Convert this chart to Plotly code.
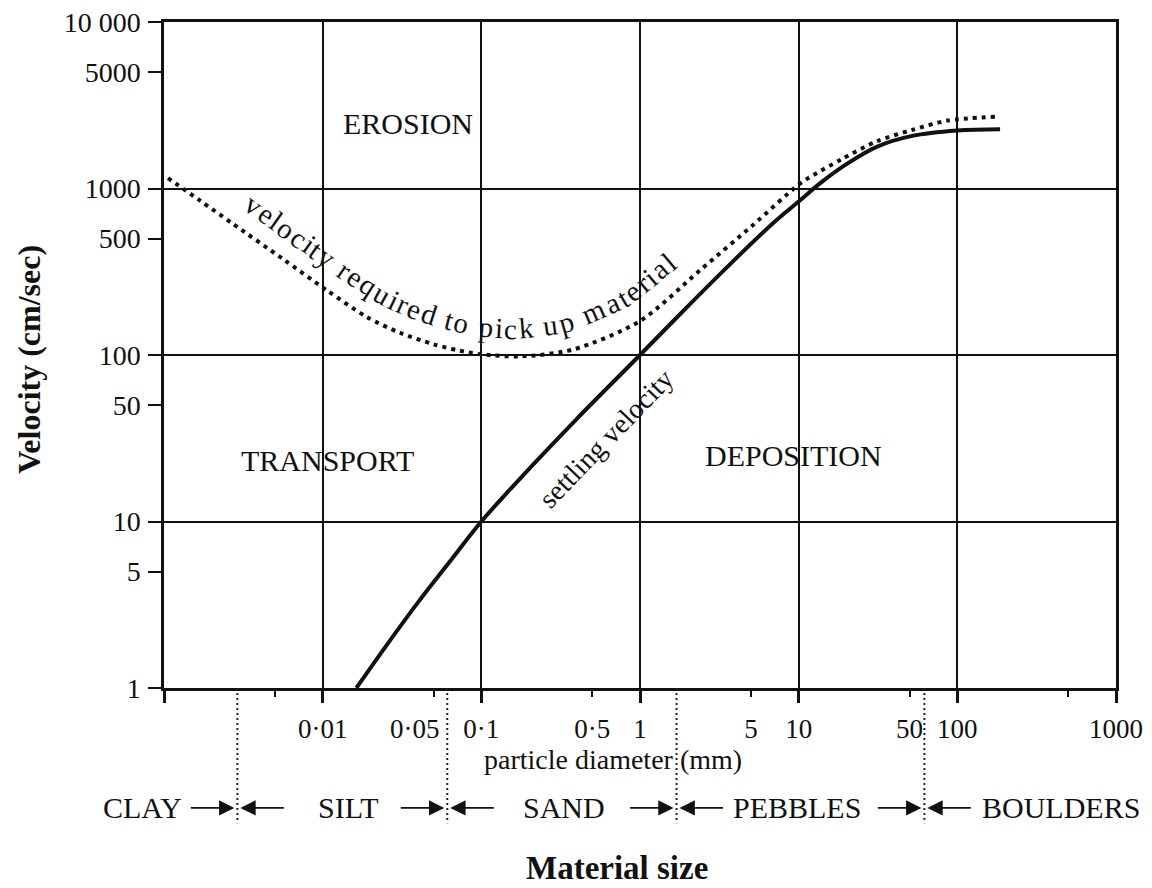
import math
import numpy as np
import plotly.graph_objects as go

# ---------------- data ----------------
settle_d = [0.0163, 0.025, 0.04, 0.065, 0.1, 0.2, 0.4, 1, 2, 4, 7, 10, 14, 20, 31, 52, 100, 186]
settle_v = [1, 1.78, 3.28, 5.93, 10, 20.7, 41.4, 100, 196, 378, 627, 835, 1095, 1400, 1780, 2070, 2230, 2270]

erosion_d = [0.00106, 0.00169, 0.00272, 0.00562, 0.0106, 0.019, 0.0307, 0.05,
             0.081, 0.1, 0.175, 0.38, 1, 2.4, 5.2, 10, 11.8, 18.7, 31, 52, 87, 173]
erosion_v = [1155, 845, 613, 377, 245, 169, 136, 116,
             104, 101, 98, 108, 160, 324, 608, 1056, 1171, 1500, 1920, 2250, 2560, 2700]

x_tick_vals = [0.001, 0.005, 0.01, 0.05, 0.1, 0.5, 1, 5, 10, 50, 100, 500, 1000]
x_tick_text = ["", "", "0·01", "", "0·1", "0·5", "1", "5", "10", "50", "100", "", "1000"]
x_shifted_label = ("0·05", 0.05)      # drawn left of its tick, as in the reference
x_decades = [0.001, 0.01, 0.1, 1, 10, 100, 1000]

y_tick_vals = [1, 5, 10, 50, 100, 500, 1000, 5000, 10000]
y_tick_text = ["1", "5", "10", "50", "100", "500", "1000", "5000", "10 000"]
y_grid_vals = [10, 100, 1000]

size_classes = ["CLAY", "SILT", "SAND", "PEBBLES", "BOULDERS"]
class_bounds = [0.0029, 0.061, 1.7, 62]

pickup_label = "velocity required to pick up material"

# ---------------- styling / geometry ----------------
SERIF = "Liberation Serif, Times New Roman, serif"
INK = "#111111"
L10 = math.log10

# the page body adds an 8px margin, so the figure is drawn 8px smaller
PAGE_OFF = 8
FIG_W, FIG_H = 1152 - PAGE_OFF, 888 - PAGE_OFF
M_L, M_R, M_T, M_B = 156, 36, 14, 200
PLOT_W = FIG_W - M_L - M_R          # 952
PLOT_H = FIG_H - M_T - M_B          # 666
X_RANGE = (-3, 3)
Y_RANGE = (0, 4)

fig = go.Figure()

fig.add_trace(go.Scatter(
    x=erosion_d, y=erosion_v, mode="lines",
    line=dict(color=INK, width=4, dash="4px,5px", shape="spline", smoothing=0.8),
    showlegend=False, hoverinfo="skip"))
fig.add_trace(go.Scatter(
    x=settle_d, y=settle_v, mode="lines",
    line=dict(color=INK, width=4, shape="spline", smoothing=1.0),
    showlegend=False, hoverinfo="skip"))

# helper traces so the overlay axes (decade ticks / grid lines) are drawn
fig.add_trace(go.Scatter(x=[None], y=[None], xaxis="x2", yaxis="y",
                         showlegend=False, hoverinfo="skip"))
fig.add_trace(go.Scatter(x=[None], y=[None], xaxis="x", yaxis="y2",
                         showlegend=False, hoverinfo="skip"))

tick_font = dict(family=SERIF, size=27, color=INK)

fig.update_layout(
    width=FIG_W, height=FIG_H,
    margin=dict(l=M_L, r=M_R, t=M_T, b=M_B, autoexpand=False),
    paper_bgcolor="white", plot_bgcolor="white",
    showlegend=False,
    xaxis=dict(type="log", range=list(X_RANGE), tickmode="array",
               tickvals=x_tick_vals, ticktext=x_tick_text,
               ticks="outside", ticklen=6, tickwidth=2, tickcolor=INK,
               ticklabelstandoff=9, tickangle=0, ticklabeloverflow="allow",
               automargin=False,
               showgrid=False, zeroline=False,
               showline=True, linewidth=2.5, linecolor=INK, mirror=True,
               tickfont=tick_font),
    xaxis2=dict(type="log", range=list(X_RANGE), overlaying="x", anchor="y", side="bottom",
                tickmode="array", tickvals=x_decades,
                ticks="outside", ticklen=14, tickwidth=2.5, tickcolor=INK,
                showticklabels=False, automargin=False,
                showgrid=True, gridcolor=INK, gridwidth=1.8,
                zeroline=False, showline=False),
    yaxis=dict(type="log", range=list(Y_RANGE), tickmode="array",
               tickvals=y_tick_vals, ticktext=y_tick_text,
               ticks="outside", ticklen=13, tickwidth=2, tickcolor=INK,
               ticklabelstandoff=2, ticklabeloverflow="allow",
               automargin=False,
               showgrid=False, zeroline=False,
               showline=True, linewidth=2.5, linecolor=INK, mirror=True,
               tickfont=dict(family=SERIF, size=28, color=INK)),
    yaxis2=dict(type="log", range=list(Y_RANGE), overlaying="y", anchor="x", side="left",
                tickmode="array", tickvals=y_grid_vals,
                ticks="", showticklabels=False, automargin=False,
                showgrid=True, gridcolor=INK, gridwidth=1.8,
                zeroline=False, showline=False),
)

ann = []


def txt(text, x, y, size, xref="x", yref="y", angle=0, bold=False, xanchor="center", xshift=0):
    ann.append(dict(text=("<b>%s</b>" % text) if bold else text, x=x, y=y,
                    xref=xref, yref=yref, showarrow=False, textangle=angle,
                    xanchor=xanchor, yanchor="middle", xshift=xshift,
                    font=dict(family=SERIF, size=size, color=INK)))


# the 0·05 tick label sits to the left of its tick
txt(x_shifted_label[0], L10(x_shifted_label[1]), -0.0616, 27, xref="x", yref="paper",
    xanchor="right", xshift=8)

# region labels
txt("EROSION", L10(0.0345), L10(2470), 30)
txt("TRANSPORT", L10(0.0108), L10(23.4), 30)
txt("DEPOSITION", L10(9.3), L10(25), 30)

# settling velocity label
txt("settling velocity", L10(0.61), L10(31.6), 28, angle=-46)

# ---- curved label following the pick-up curve (placed letter by letter) ----
EM = {"v": .5, "e": .444, "l": .278, "o": .5, "c": .444, "i": .278, "t": .278,
      "y": .5, " ": .25, "r": .333, "q": .5, "u": .5, "d": .5, "p": .5, "k": .5,
      "m": .778, "a": .444}
gx = np.linspace(L10(erosion_d[0]), L10(erosion_d[-1]), 3000)
gv = np.interp(gx, np.log10(erosion_d), np.log10(erosion_v))
cx = (gx - X_RANGE[0]) / (X_RANGE[1] - X_RANGE[0]) * PLOT_W
cy = (Y_RANGE[1] - gv) / (Y_RANGE[1] - Y_RANGE[0]) * PLOT_H
keep = cx < 560
cx, cy = cx[keep], cy[keep]
kw = 121
cy = np.convolve(np.pad(cy, kw // 2, mode="edge"), np.ones(kw) / kw, mode="valid")
dxc, dyc = np.gradient(cx), np.gradient(cy)
nn = np.hypot(dxc, dyc)
OFF = 27
ox = cx + OFF * dyc / nn
oy = cy - OFF * dxc / nn
s = np.concatenate([[0], np.cumsum(np.hypot(np.diff(ox), np.diff(oy)))])
s_start = np.interp(247 - 164, ox, s)
s_end = np.interp(672 - 164, ox, s)
fs = 29
tot = sum(EM[c] for c in pickup_label)
adv = (s_end - s_start) / (tot * fs)
acc = 0.0
for ch in pickup_label:
    w = EM[ch]
    if ch != " ":
        sc = s_start + (acc + w / 2) * fs * adv
        px = np.interp(sc, s, ox)
        py = np.interp(sc, s, oy)
        tx = np.interp(sc + 2, s, ox) - np.interp(sc - 2, s, ox)
        ty = np.interp(sc + 2, s, oy) - np.interp(sc - 2, s, oy)
        ang = math.degrees(math.atan2(ty, tx))
        txt(ch, px / PLOT_W, 1 - py / PLOT_H, fs, xref="paper", yref="paper", angle=ang)
    acc += w

# axis titles and material size row
txt("Velocity (cm/sec)", -0.142, 0.494, 32, xref="paper", yref="paper", angle=-90, bold=True)
txt("particle diameter (mm)", 0.4716, -0.108, 28, xref="paper", yref="paper")
txt("Material size", 0.476, -0.271, 33, xref="paper", yref="paper", bold=True)

class_x = [-0.0221, 0.1943, 0.4202, 0.6649, 0.9422]
for name, cxp in zip(size_classes, class_x):
    txt(name, cxp, -0.180, 30, xref="paper", yref="paper")

# arrows pointing into each class boundary
for b in class_bounds:
    for side in (-1, 1):
        ann.append(dict(text="", x=L10(b), y=-0.180, xref="x", yref="paper",
                        showarrow=True, ax=side * 48, ay=0,
                        axref="pixel", ayref="pixel",
                        arrowhead=2, arrowsize=1.7, arrowwidth=1.8,
                        arrowcolor=INK, standoff=3))

fig.update_layout(annotations=ann)

# dotted class boundary lines below the axis
shapes = []
for b in class_bounds:
    shapes.append(dict(type="line", xref="x", yref="paper",
                       x0=b, x1=b, y0=0, y1=-0.203,
                       line=dict(color="#222222", width=2, dash="2px,3px")))
fig.update_layout(shapes=shapes)

fig.write_html("out.html")
